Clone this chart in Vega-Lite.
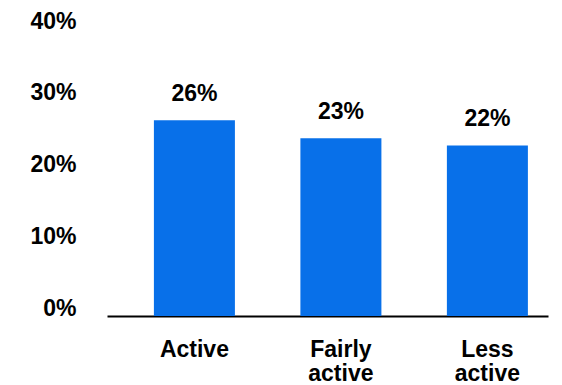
{
  "$schema": "https://vega.github.io/schema/vega-lite/v6.json",
  "width": 441,
  "height": 295,
  "autosize": {"type": "none"},
  "padding": {"left": 107, "top": 21, "right": 14, "bottom": 69},
  "background": "white",
  "config": {
    "view": {"stroke": null},
    "font": "Liberation Sans",
    "axis": {"labelFont": "Liberation Sans", "labelFontWeight": "bold", "labelFontSize": 23, "labelColor": "#000000", "grid": false, "ticks": false, "title": null}
  },
  "data": {
    "values": [
      {"group": "Active", "value": 26.2, "label": "26%"},
      {"group": "Fairly active", "value": 23.7, "label": "23%"},
      {"group": "Less active", "value": 22.7, "label": "22%"}
    ]
  },
  "encoding": {
    "x": {
      "field": "group",
      "type": "nominal",
      "sort": null,
      "scale": {"paddingInner": 0.447, "paddingOuter": 0.2287, "align": 0.7},
      "axis": {
        "labelAngle": 0,
        "domain": true,
        "domainColor": "#000000",
        "domainWidth": 2,
        "labelPadding": 22,
        "labelBaseline": "top",
        "labelLineHeight": 24,
        "labelExpr": "split(datum.label, ' ')"
      }
    }
  },
  "layer": [
    {
      "mark": {"type": "bar", "color": "#0870E9"},
      "encoding": {
        "y": {
          "field": "value",
          "type": "quantitative",
          "scale": {"domain": [-1, 40], "nice": false, "zero": false},
          "axis": {
            "values": [0, 10, 20, 30, 40],
            "domain": false,
            "labelPadding": 31,
            "labelBaseline": "middle",
            "labelExpr": "datum.value + '%'"
          }
        },
        "y2": {"datum": -1}
      }
    },
    {
      "mark": {"type": "text", "baseline": "alphabetic", "dy": -19, "fontSize": 23, "fontWeight": "bold", "color": "#000000", "font": "Liberation Sans"},
      "encoding": {
        "y": {"field": "value", "type": "quantitative"},
        "text": {"field": "label"}
      }
    }
  ]
}
